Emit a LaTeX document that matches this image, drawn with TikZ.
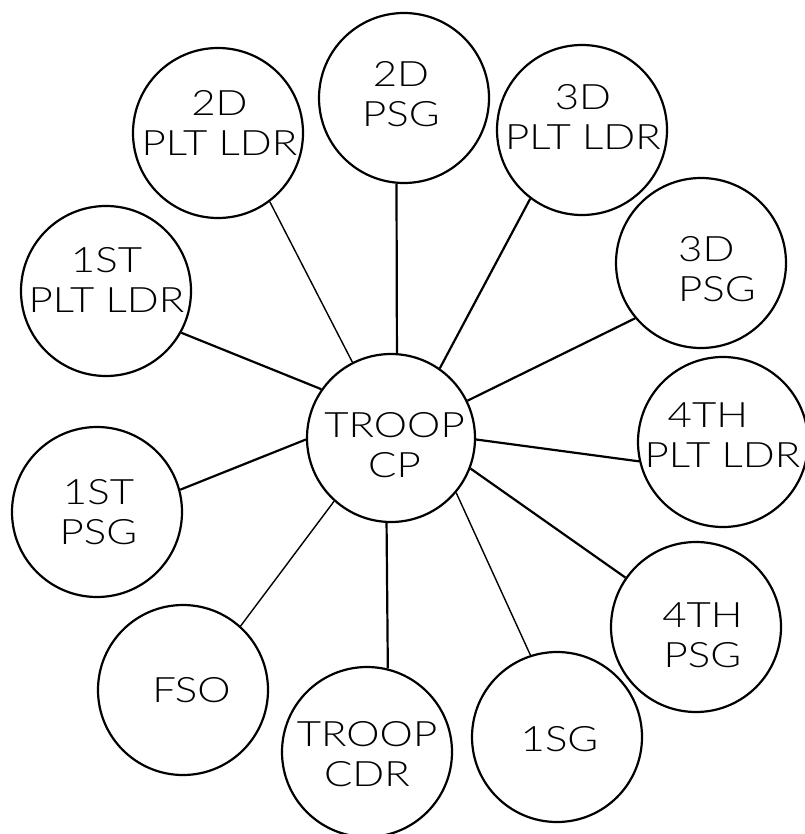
\documentclass[tikz,border=0pt]{standalone}
\usepackage{fontspec}
\setmainfont{Lato}[UprightFont=* Light,FakeStretch=1.2]
\begin{document}
\begin{tikzpicture}[x=1pt,y=-1pt,
  unit/.style={circle,draw,line width=2.2pt,minimum size=170pt,inner sep=0pt},
  cpunit/.style={unit,minimum size=168pt},
  lbl/.style={align=center,font=\fontsize{35}{40}\selectfont,inner sep=0pt},
  link/.style={line width=2.2pt},
  thinlink/.style={line width=1.4pt}]
\useasboundingbox (0,0) rectangle (804,834);
% central node
\node[cpunit,label={[lbl,xshift=3.5pt,yshift=-7.5pt]center:{TROOP\\CP}}] (cp) at (391,438) {};
% outer nodes
\node[unit,label={[lbl,xshift=-3pt,yshift=3.5pt]center:{2D\\PSG}}] (psg2) at (404,98) {};
\node[unit,label={[lbl,xshift=1.5pt,yshift=10.5pt]center:{2D\\PLT LDR}}] (plt2) at (218,133) {};
\node[unit,label={[lbl,xshift=1pt,yshift=13.5pt]center:{3D\\PLT LDR}}] (plt3) at (582,130) {};
\node[unit,label={[lbl,xshift=0.5pt,yshift=11pt]center:{1ST\\PLT LDR}}] (plt1) at (106,291) {};
\node[unit,label={[lbl,align=left,xshift=16pt,yshift=-6.5pt]center:{3D\\PSG}}] (psg3) at (701,263) {};
\node[unit,label={[lbl,align=left,xshift=-0.5pt,yshift=6.5pt]center:{\hspace*{23pt}4TH\\PLT LDR}}] (plt4) at (723,442) {};
\node[unit,label={[lbl,xshift=1.5pt,yshift=0pt]center:{1ST\\PSG}}] (psg1) at (97,512) {};
\node[unit,label={[lbl,xshift=6.5pt,yshift=-8.5pt]center:{4TH\\PSG}}] (psg4) at (696,627) {};
\node[unit,label={[lbl,xshift=8.5pt,yshift=-0.5pt]center:{FSO}}] (fso) at (183,690) {};
\node[unit,label={[lbl,xshift=0pt,yshift=-2.5pt]center:{TROOP\\CDR}}] (cdr) at (367,752) {};
\node[unit,label={[lbl,xshift=2.5pt,yshift=-2.5pt]center:{1SG}}] (fsg) at (557,737) {};
% connectors
\draw[link] (cp.86) -- (psg2.265);
\draw[thinlink] (cp.117) -- (plt2.307);
\draw[link] (cp.145) -- (plt1.331);
\draw[link] (cp.55) -- (plt3.233);
\draw[link] (cp.26) -- (psg3.220);
\draw[link] (cp.-1) -- (plt4.193);
\draw[link] (cp.-21) -- (psg4.145);
\draw[thinlink] (cp.-40) -- (fsg.108);
\draw[link] (cp.-93) -- (cdr.76);
\draw[thinlink] (cp.228) -- (fso.48);
\draw[link] (cp.181) -- (psg1.15);
\end{tikzpicture}
\end{document}
